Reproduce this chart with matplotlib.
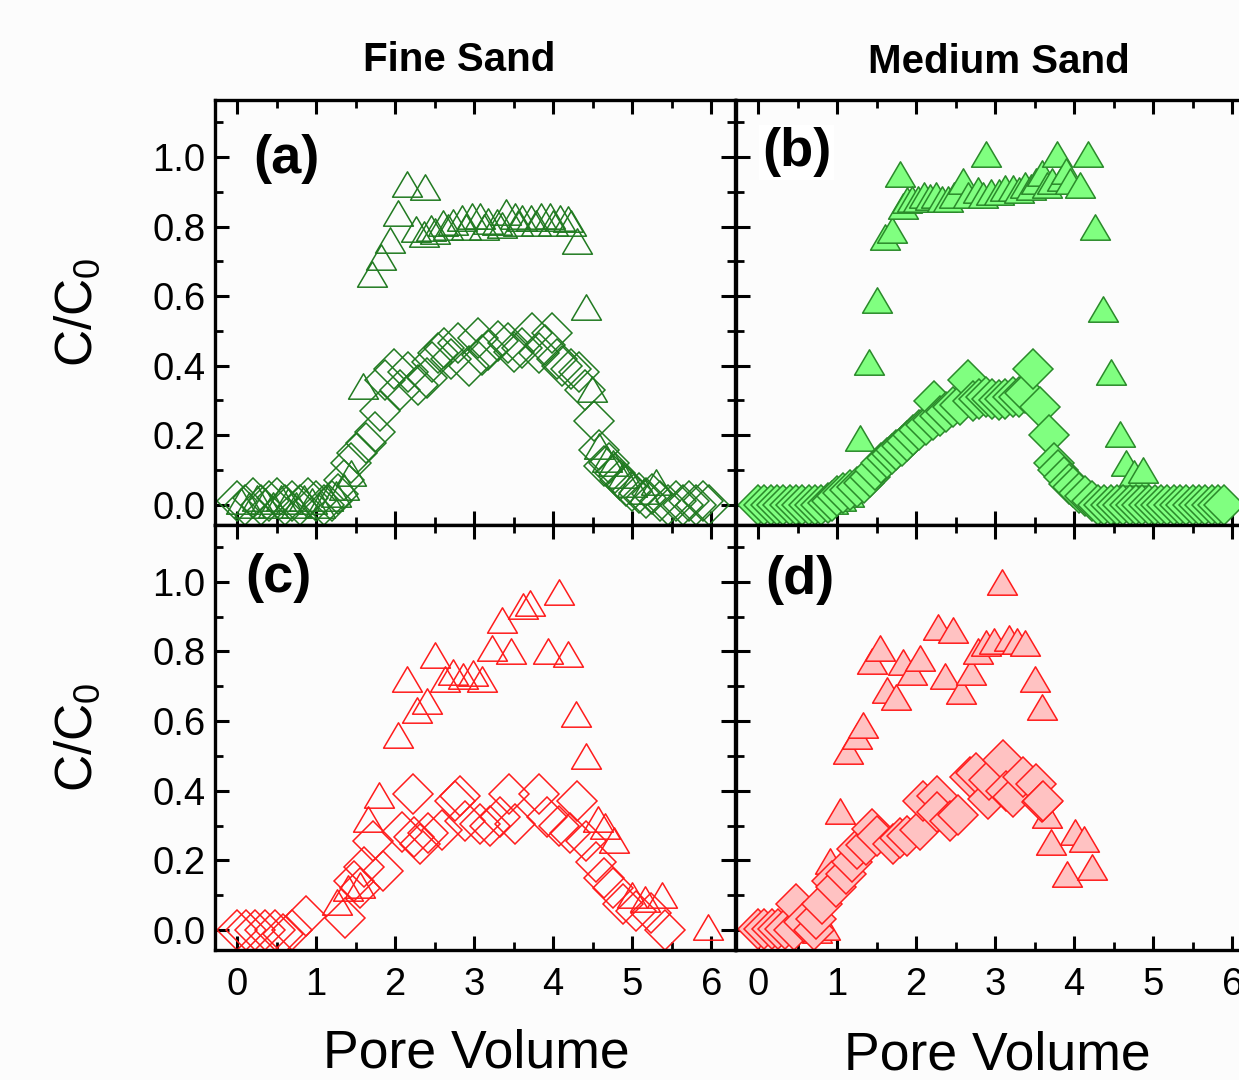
import matplotlib
matplotlib.use("Agg")
import matplotlib.pyplot as plt
from matplotlib.ticker import MultipleLocator
from matplotlib.path import Path

plt.rcParams['font.family'] = ['Liberation Sans', 'DejaVu Sans']
plt.rcParams['mathtext.fontset'] = 'custom'
plt.rcParams['mathtext.rm'] = 'Liberation Sans'
plt.rcParams['mathtext.it'] = 'Liberation Sans:italic'

# ---------------- data (Pore Volume, C/C0) ----------------
# Panel (a) Fine sand, green open
a_tri_x = [0.05, 0.15, 0.25, 0.35, 0.45, 0.55, 0.65, 0.75, 0.85, 0.95, 1.05, 1.15, 1.25, 1.35, 1.44,
           1.59, 1.71, 1.82, 1.93, 2.04, 2.15, 2.26, 2.38, 2.37, 2.45, 2.50, 2.60, 2.67, 2.73, 2.84,
           2.90, 2.97, 3.07, 3.13, 3.18, 3.29, 3.35, 3.40, 3.51, 3.55, 3.61, 3.72, 3.78, 3.85, 3.96,
           4.00, 4.09, 4.19, 4.22, 4.30, 4.41, 4.49, 4.58, 4.68, 4.75, 4.88, 5.00, 5.15, 5.30]
a_tri_y = [0.01, 0.00, 0.02, 0.01, 0.00, 0.02, 0.01, 0.00, 0.02, 0.01, 0.00, 0.02, 0.03, 0.05, 0.09,
           0.342, 0.663, 0.713, 0.761, 0.84, 0.922, 0.793, 0.913, 0.78, 0.795, 0.788, 0.81, 0.80, 0.812, 0.826,
           0.80, 0.831, 0.831, 0.80, 0.816, 0.812, 0.805, 0.843, 0.831, 0.81, 0.826, 0.826, 0.81, 0.831, 0.831,
           0.81, 0.826, 0.821, 0.81, 0.759, 0.57, 0.333, 0.17, 0.13, 0.12, 0.085, 0.06, 0.04, 0.065]
a_dia_x = [0.00, 0.10, 0.20, 0.30, 0.40, 0.50, 0.60, 0.70, 0.80, 0.90, 1.00, 1.10, 1.20,
           1.28, 1.35, 1.44, 1.52, 1.63, 1.74, 1.81, 1.87, 1.99, 2.06, 2.16, 2.29, 2.40, 2.47,
           2.54, 2.62, 2.70, 2.80, 2.93, 3.05, 3.10, 3.18, 3.30, 3.43, 3.50, 3.60, 3.73, 3.82,
           3.90, 3.99, 4.05, 4.11, 4.22, 4.33, 4.40, 4.52, 4.58, 4.64, 4.70, 4.78, 4.85, 4.92,
           5.00, 5.09, 5.18, 5.25, 5.35, 5.45, 5.55, 5.64, 5.72, 5.81, 5.90, 5.97]
a_dia_y = [0.01, 0.00, 0.02, 0.00, 0.01, 0.02, 0.00, 0.01, 0.00, 0.02, 0.01, 0.00, 0.01,
           0.03, 0.07, 0.12, 0.15, 0.177, 0.21, 0.27, 0.36, 0.39, 0.33, 0.383, 0.345, 0.365, 0.41,
           0.435, 0.45, 0.42, 0.464, 0.40, 0.478, 0.43, 0.445, 0.47, 0.464, 0.44, 0.45, 0.493, 0.435,
           0.46, 0.493, 0.42, 0.40, 0.39, 0.383, 0.33, 0.24, 0.158, 0.11, 0.12, 0.09, 0.07, 0.053,
           0.04, 0.034, 0.02, 0.03, 0.01, 0.00, 0.01, 0.00, 0.01, 0.00, 0.01, 0.00]

# Panel (b) Medium sand, green filled
b_tri_x = [0.95, 1.05, 1.15, 1.29, 1.40, 1.50, 1.60, 1.70, 1.79, 1.83, 1.88, 1.95, 2.02, 2.10,
           2.18, 2.25, 2.33, 2.40, 2.48, 2.59, 2.65, 2.78, 2.85, 2.88, 2.95, 3.05, 3.12, 3.22,
           3.30, 3.38, 3.45, 3.52, 3.59, 3.66, 3.72, 3.78, 3.85, 3.89, 3.95, 4.07, 4.18, 4.26,
           4.37, 4.47, 4.58, 4.66, 4.75, 4.87]
b_tri_y = [0.01, 0.02, 0.03, 0.193, 0.41, 0.59, 0.77, 0.79, 0.952, 0.86, 0.876, 0.88, 0.88, 0.89,
           0.885, 0.89, 0.88, 0.88, 0.89, 0.93, 0.89, 0.904, 0.89, 1.01, 0.90, 0.90, 0.91, 0.91,
           0.905, 0.92, 0.915, 0.93, 0.954, 0.92, 0.93, 1.01, 0.94, 0.96, 0.93, 0.919, 1.01, 0.80,
           0.562, 0.382, 0.203, 0.121, 0.09, 0.10]
b_dia_x = [0.00, 0.08, 0.16, 0.24, 0.32, 0.40, 0.48, 0.56, 0.64, 0.72, 0.80, 0.88, 0.94,
           1.00, 1.08, 1.16, 1.25, 1.34, 1.41, 1.48, 1.55, 1.63, 1.70, 1.75, 1.82, 1.88, 1.96,
           2.04, 2.12, 2.21, 2.23, 2.30, 2.38, 2.46, 2.55, 2.65, 2.72, 2.80, 2.88, 2.96, 3.05,
           3.13, 3.22, 3.30, 3.38, 3.48, 3.57, 3.68, 3.74, 3.80, 3.87, 3.93, 3.98, 4.06, 4.14,
           4.22, 4.30, 4.38, 4.46, 4.54, 4.62, 4.70, 4.78, 4.86, 4.94, 5.02, 5.10, 5.18, 5.26,
           5.34, 5.42, 5.50, 5.58, 5.66, 5.74, 5.82, 5.90]
b_dia_y = [0.00, 0.00, 0.00, 0.00, 0.00, 0.00, 0.00, 0.00, 0.00, 0.00, 0.00, 0.005, 0.01,
           0.024, 0.035, 0.043, 0.05, 0.062, 0.08, 0.10, 0.12, 0.134, 0.145, 0.158, 0.17, 0.182, 0.20,
           0.215, 0.23, 0.244, 0.297, 0.255, 0.268, 0.28, 0.287, 0.359, 0.297, 0.305, 0.311, 0.305, 0.30,
           0.305, 0.311, 0.31, 0.32, 0.39, 0.282, 0.20, 0.12, 0.10, 0.081, 0.06, 0.05, 0.035, 0.024,
           0.01, 0.00, 0.00, 0.00, 0.00, 0.00, 0.00, 0.00, 0.00, 0.00, 0.00, 0.00, 0.00, 0.00,
           0.00, 0.00, 0.00, 0.00, 0.00, 0.00, 0.00, 0.00]

# Panel (c) Fine sand, red open
c_tri_x = [1.27, 1.40, 1.55, 1.66, 1.79, 2.03, 2.15, 2.27, 2.40, 2.51, 2.63, 2.73, 2.86, 2.99,
           3.10, 3.22, 3.35, 3.46, 3.62, 3.70, 3.94, 4.07, 4.19, 4.29, 4.41, 4.57, 4.65, 4.77,
           5.00, 5.16, 5.38, 5.96]
c_tri_y = [0.08, 0.12, 0.13, 0.318, 0.388, 0.56, 0.72, 0.631, 0.658, 0.79, 0.72, 0.741, 0.73, 0.737,
           0.72, 0.81, 0.89, 0.80, 0.93, 0.94, 0.80, 0.97, 0.791, 0.619, 0.50, 0.32, 0.30, 0.259,
           0.10, 0.089, 0.10, 0.01]
c_dia_x = [0.00, 0.11, 0.22, 0.35, 0.48, 0.58, 0.70, 0.87, 1.36, 1.48, 1.55, 1.61, 1.72, 1.84,
           2.08, 2.23, 2.24, 2.31, 2.41, 2.59, 2.76, 2.82, 2.88, 3.07, 3.20, 3.33, 3.44, 3.52,
           3.82, 3.92, 4.07, 4.21, 4.30, 4.41, 4.54, 4.64, 4.75, 4.88, 5.05, 5.24, 5.41]
c_dia_y = [0.00, 0.00, 0.00, 0.00, 0.00, -0.01, 0.00, 0.04, 0.036, 0.142, 0.12, 0.18, 0.257, 0.171,
           0.281, 0.39, 0.266, 0.247, 0.28, 0.286, 0.372, 0.385, 0.314, 0.305, 0.30, 0.324, 0.39, 0.305,
           0.39, 0.324, 0.30, 0.28, 0.372, 0.257, 0.195, 0.151, 0.12, 0.075, 0.056, 0.05, 0.00]

# Panel (d) Medium sand, red filled
d_tri_x = [0.75, 0.85, 0.91, 1.04, 1.14, 1.25, 1.33, 1.44, 1.54, 1.63, 1.74, 1.83, 1.95, 2.05,
           2.27, 2.36, 2.46, 2.57, 2.69, 2.78, 2.88, 2.98, 3.08, 3.17, 3.28, 3.38, 3.50, 3.59,
           3.66, 3.70, 3.91, 4.01, 4.12, 4.22]
d_tri_y = [0.00, 0.01, 0.199, 0.342, 0.514, 0.556, 0.59, 0.772, 0.81, 0.69, 0.669, 0.77, 0.741, 0.78,
           0.87, 0.73, 0.861, 0.686, 0.74, 0.80, 0.823, 0.83, 1.00, 0.837, 0.83, 0.823, 0.722, 0.64,
           0.33, 0.252, 0.161, 0.281, 0.262, 0.18]
d_dia_x = [0.00, 0.08, 0.17, 0.25, 0.34, 0.45, 0.48, 0.58, 0.71, 0.73, 0.81, 0.93, 0.98, 1.11,
           1.19, 1.25, 1.36, 1.44, 1.51, 1.71, 1.79, 1.88, 2.05, 2.09, 2.26, 2.26, 2.43, 2.53,
           2.68, 2.76, 2.91, 2.92, 3.10, 3.14, 3.22, 3.35, 3.51, 3.59, 3.60]
d_dia_y = [0.003, 0.003, 0.003, 0.003, 0.003, 0.0, 0.075, 0.022, 0.0, 0.032, 0.075, 0.14, 0.123, 0.161,
           0.195, 0.233, 0.245, 0.29, 0.27, 0.247, 0.265, 0.271, 0.286, 0.372, 0.386, 0.34, 0.314, 0.33,
           0.439, 0.45, 0.377, 0.43, 0.487, 0.40, 0.381, 0.44, 0.42, 0.367, 0.372]

panel_labels = ['(a)', '(b)', '(c)', '(d)']
col_titles = ['Fine Sand', 'Medium Sand']
xlabel = 'Pore Volume'
ylabel = r'C/C$_\mathrm{0}$'
xticks = [0, 1, 2, 3, 4, 5, 6]
yticks = [0.0, 0.2, 0.4, 0.6, 0.8, 1.0]

# ---------------- styling ----------------
W, H = 1239, 1080
fig = plt.figure(figsize=(W / 100, H / 100), dpi=100)
bg = '#fcfcfc'
fig.patch.set_facecolor(bg)

def px_rect(x0, y0, x1, y1):
    return [x0 / W, 1 - y1 / H, (x1 - x0) / W, (y1 - y0) / H]

axes = {
    'a': fig.add_axes(px_rect(215, 100, 735, 524.5)),
    'b': fig.add_axes(px_rect(736, 100, 1256, 524.5)),
    'c': fig.add_axes(px_rect(215, 524.5, 735, 950)),
    'd': fig.add_axes(px_rect(736, 524.5, 1256, 950)),
}

tri = Path([(0, 0.85), (-1, -0.85), (1, -0.85), (0, 0.85)], closed=True)
green_dark = '#217a21'
green_fill = '#80ff80'
green_edge = '#2a8a2a'
red = '#ff1c1c'
red_fill = '#ffc2c2'

series = {
    'a': [(a_tri_x, a_tri_y, tri, 21.5, 'none', green_dark),
          (a_dia_x, a_dia_y, 'D', 20.5, 'none', green_dark)],
    'b': [(b_tri_x, b_tri_y, tri, 21.5, green_fill, green_edge),
          (b_dia_x, b_dia_y, 'D', 20, green_fill, green_edge)],
    'c': [(c_tri_x, c_tri_y, tri, 21.5, 'none', red),
          (c_dia_x, c_dia_y, 'D', 20.5, 'none', red)],
    'd': [(d_tri_x, d_tri_y, tri, 21.5, red_fill, red),
          (d_dia_x, d_dia_y, 'D', 20, red_fill, red)],
}

label_pos = {'a': (0.073, 0.861), 'b': (0.05, 0.877), 'c': (0.058, 0.874), 'd': (0.056, 0.870)}

for i, key in enumerate(['a', 'b', 'c', 'd']):
    ax = axes[key]
    ax.set_facecolor(bg)
    for xs, ys, mk, ms, fc, ec in series[key]:
        ax.plot(xs, ys, linestyle='none', marker=mk, markersize=ms,
                markerfacecolor=fc, markeredgecolor=ec, markeredgewidth=1.1)
    ax.set_xlim(-0.28, 6.30)
    ax.set_ylim(-0.057, 1.164)
    ax.set_xticks(xticks)
    ax.set_yticks(yticks)
    ax.xaxis.set_minor_locator(MultipleLocator(0.5))
    ax.yaxis.set_minor_locator(MultipleLocator(0.1))
    ax.tick_params(which='both', direction='in', top=True, right=True, bottom=True, left=True,
                   colors='black')
    ax.tick_params(which='major', length=10, width=2.2)
    ax.tick_params(which='minor', length=6, width=2.0)
    ax.tick_params(axis='x', which='major', labelsize=27.5, pad=12)
    ax.tick_params(axis='y', which='major', labelsize=27.5, pad=7)
    ax.xaxis.set_major_formatter(plt.FuncFormatter(lambda v, p: f'{v:.0f}'))
    ax.yaxis.set_major_formatter(plt.FuncFormatter(lambda v, p: f'{v:.1f}'))
    for s in ax.spines.values():
        s.set_linewidth(2.4)
    if key in ('a', 'b'):
        ax.tick_params(labelbottom=False)
    if key in ('b', 'd'):
        ax.tick_params(labelleft=False)
    lx, ly = label_pos[key]
    kw = {}
    if key == 'b':
        kw['bbox'] = dict(facecolor='white', edgecolor='none', pad=2)
    ax.text(lx, ly, panel_labels[i], transform=ax.transAxes, fontsize=39,
            fontweight='bold', ha='left', va='center', **kw)

# column titles
fig.text(459 / W, 1 - 70.7 / H, col_titles[0], fontsize=29, fontweight='bold',
         ha='center', va='baseline')
fig.text(999 / W, 1 - 73.3 / H, col_titles[1], fontsize=29, fontweight='bold',
         ha='center', va='baseline')

# axis labels
fig.text(476 / W, 1 - 1068 / H, xlabel, fontsize=38.5, ha='center', va='baseline')
fig.text(997 / W, 1 - 1069 / H, xlabel, fontsize=38.5, ha='center', va='baseline')
fig.text(78 / W, 1 - 312 / H, ylabel, fontsize=37, rotation=90, ha='center', va='center')
fig.text(78 / W, 1 - 737 / H, ylabel, fontsize=37, rotation=90, ha='center', va='center')

fig.savefig('out.png', dpi=100, facecolor=bg)
